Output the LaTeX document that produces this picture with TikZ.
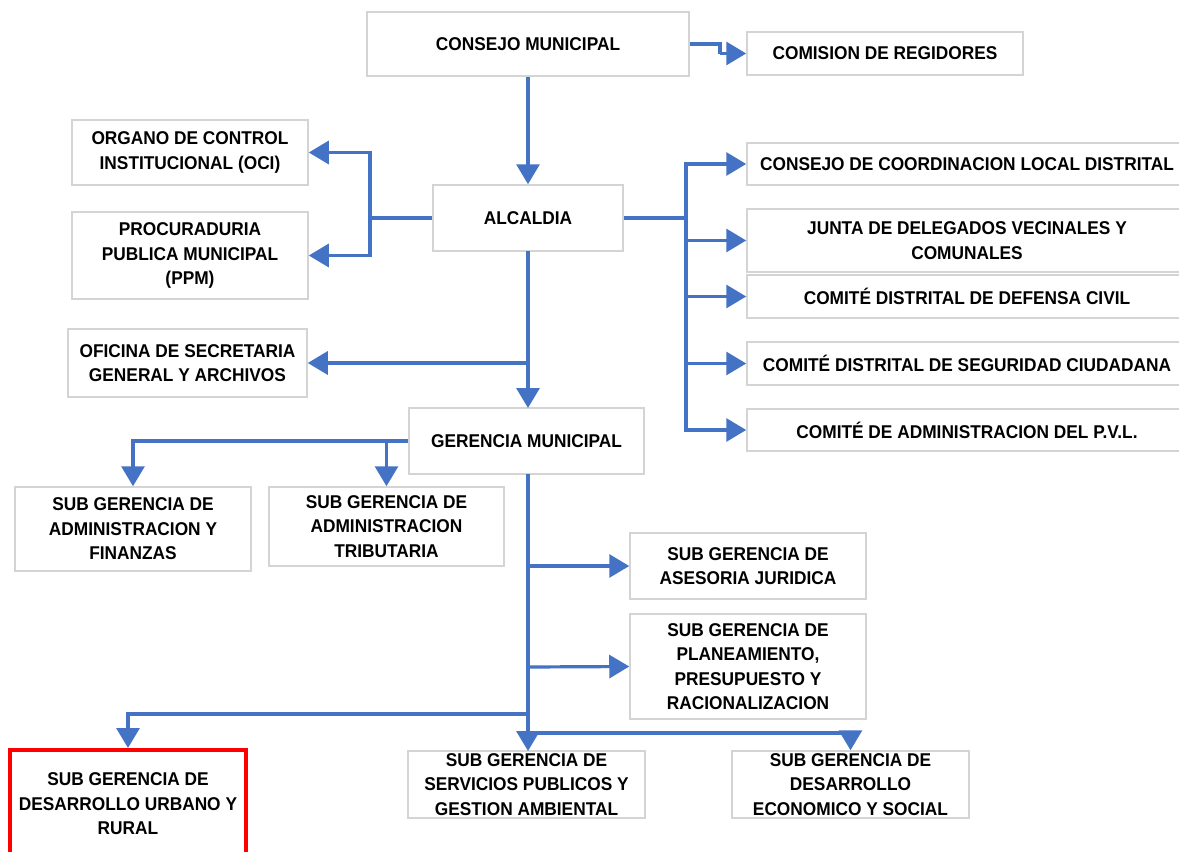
\documentclass[tikz,border=0pt]{standalone}
\usepackage{fontspec}
\setmainfont[FakeStretch=0.935]{Liberation Sans}
\usetikzlibrary{arrows.meta}
\definecolor{conblue}{HTML}{4472C4}
\definecolor{boxgray}{HTML}{D4D4D4}
\definecolor{boxred}{HTML}{FF0000}
\tikzset{
  orgbox/.style={draw=boxgray, line width=1.5pt, fill=white, align=center, inner sep=0pt,
    font=\fontsize{18.5}{24.5}\selectfont\bfseries, text=black},
  redbox/.style={orgbox, draw=boxred, line width=4pt},
  link/.style={draw=conblue, line width=3.2pt},
  arr/.style={link, -{Triangle[length=20pt,width=23pt]}}
}
\begin{document}
\begin{tikzpicture}[x=1pt,y=-1pt]
\useasboundingbox (0,0) rectangle (1179,852);
% top
\node[orgbox, minimum width=322, minimum height=64] (cm) at (528,44) {CONSEJO MUNICIPAL};
\node[orgbox, minimum width=276, minimum height=43] (cr) at (885,53.5) {COMISION DE REGIDORES};
\node[orgbox, minimum width=236, minimum height=65] (oci) at (190,152.5) {ORGANO DE CONTROL\\INSTITUCIONAL (OCI)};
\node[orgbox, minimum width=236, minimum height=87] (ppm) at (190,255.5) {PROCURADURIA\\PUBLICA MUNICIPAL\\(PPM)};
\node[orgbox, minimum width=190, minimum height=66] (alc) at (528,218) {ALCALDIA};
\node[orgbox, minimum width=239, minimum height=68] (osg) at (187.5,363) {OFICINA DE SECRETARIA\\GENERAL Y ARCHIVOS};
% right column
\node[orgbox, minimum width=440, minimum height=42] (ccl) at (967,164) {CONSEJO DE COORDINACION LOCAL DISTRITAL};
\node[orgbox, minimum width=440, minimum height=63] (jdv) at (967,240.5) {JUNTA DE DELEGADOS VECINALES Y\\COMUNALES};
\node[orgbox, minimum width=440, minimum height=43] (cdc) at (967,296.5) {COMITÉ DISTRITAL DE DEFENSA CIVIL};
\node[orgbox, minimum width=440, minimum height=43] (csc) at (967,363.5) {COMITÉ DISTRITAL DE SEGURIDAD CIUDADANA};
\node[orgbox, minimum width=440, minimum height=42] (pvl) at (967,430) {COMITÉ DE ADMINISTRACION DEL P.V.L.};
% gerencia
\node[orgbox, minimum width=235, minimum height=66] (gm) at (526.5,441) {GERENCIA MUNICIPAL};
\node[orgbox, minimum width=236, minimum height=84] (saf) at (133,529) {SUB GERENCIA DE\\ADMINISTRACION Y\\FINANZAS};
\node[orgbox, minimum width=235, minimum height=79] (sat) at (386.5,526.5) {SUB GERENCIA DE\\ADMINISTRACION\\TRIBUTARIA};
\node[orgbox, minimum width=236, minimum height=66] (saj) at (748,566) {SUB GERENCIA DE\\ASESORIA JURIDICA};
\node[orgbox, minimum width=236, minimum height=105] (spp) at (748,666.5) {SUB GERENCIA DE\\PLANEAMIENTO,\\PRESUPUESTO Y\\RACIONALIZACION};
\node[redbox, minimum width=236, minimum height=108] (sdu) at (128,804) {SUB GERENCIA DE\\DESARROLLO URBANO Y\\RURAL};
\node[orgbox, minimum width=237, minimum height=67] (ssp) at (526.5,784.5) {SUB GERENCIA DE\\SERVICIOS PUBLICOS Y\\GESTION AMBIENTAL};
\node[orgbox, minimum width=237, minimum height=67] (sde) at (850.5,784.5) {SUB GERENCIA DE\\DESARROLLO\\ECONOMICO Y SOCIAL};
% junction coordinates
\coordinate (cmR) at (720,44);
\coordinate (cmRd) at (720,53.5);
\coordinate (jL) at (370,218);
\coordinate (jR) at (686,218);
\coordinate (tA) at (528,251);
\coordinate (tB) at (528,408);
\coordinate (tOsg) at (528,363);
\coordinate (tG) at (528,474);
\coordinate (tS) at (528,751);
\coordinate (t1) at (528,566);
\coordinate (t2) at (528,667);
\coordinate (t3) at (528,714);
\coordinate (t4) at (528,733);
% connectors
\draw[arr] (cm.south) -- (alc.north);
\draw[link] (cm.east |- cmR) -- (cmR) -- (cmRd);
\draw[arr] (cmRd) -- (cr.west);
\draw[link] (alc.west) -- (jL);
\draw[arr] (jL) |- (oci.east);
\draw[arr] (jL) |- (ppm.east);
\draw[link] (alc.east) -- (jR);
\draw[arr] (jR) |- (ccl.west);
\draw[arr] (jR) |- (jdv.west);
\draw[arr] (jR) |- (cdc.west);
\draw[arr] (jR) |- (csc.west);
\draw[arr] (jR) |- (pvl.west);
\draw[arr] (tA) -- (tB);
\draw[arr] (tOsg) -- (osg.east);
\draw[arr] (gm.west) -| (saf.north);
\draw[arr] (sat.north |- gm.west) -- (sat.north);
\draw[arr] (tG) -- (tS);
\draw[arr] (t1) -- (saj.west);
\draw[arr] (t2) -- (spp.west);
\draw[arr] (t3) -| (sdu.north);
\draw[arr] (t4) -| (sde.north);
\end{tikzpicture}
\end{document}
